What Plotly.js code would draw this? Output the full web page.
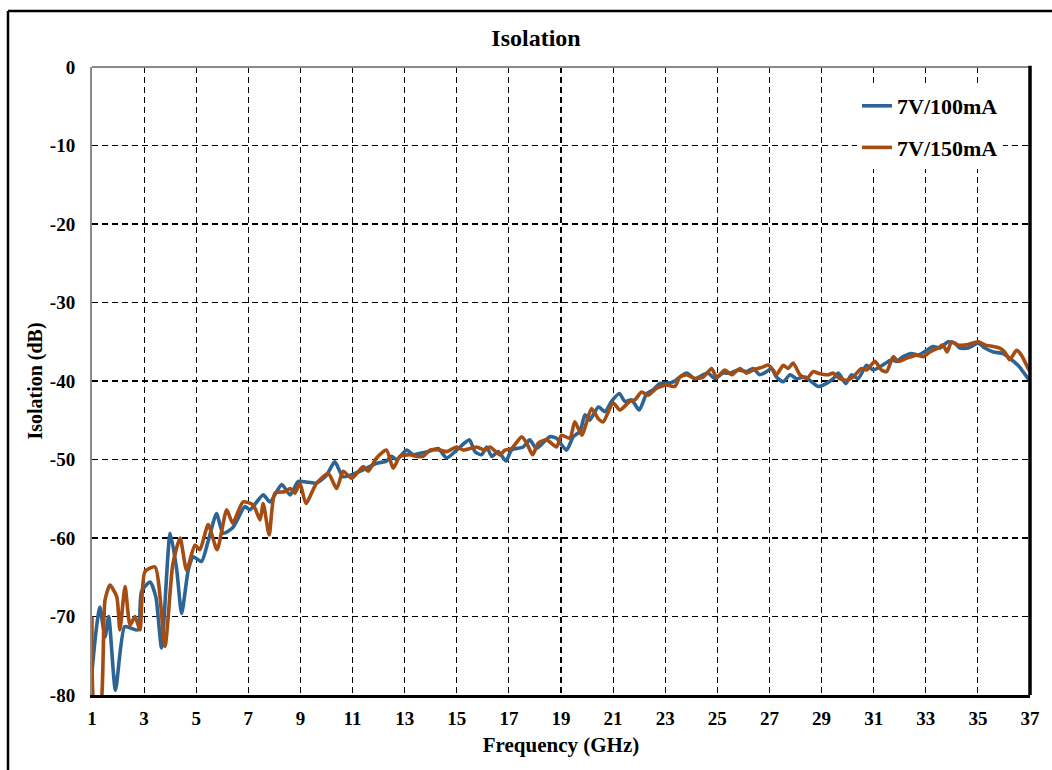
<!DOCTYPE html>
<html>
<head>
<meta charset="utf-8">
<script src="https://cdn.plot.ly/plotly-3.0.1.min.js"></script>
<style>
  html, body { margin: 0; padding: 0; background: #ffffff; }
  #chart { width: 1052px; height: 770px; }
</style>
</head>
<body>
<div id="chart"></div>
<script>
// ---- data ----
const seriesNames = ["7V/100mA", "7V/150mA"];

const freq100 = [1.0, 1.15, 1.3, 1.5, 1.64, 1.9, 2.25, 2.5, 2.77, 2.9, 3.23, 3.45, 3.67, 4.0, 4.25, 4.44, 4.7, 4.89, 5.2, 5.45, 5.78, 6.03, 6.4, 6.87, 7.06, 7.57, 7.83, 8.28, 8.6, 8.92, 9.3, 9.62, 10.0, 10.32, 10.64, 11.28, 11.92, 12.3, 12.5, 12.69, 13.08, 13.33, 13.59, 13.9, 14.29, 14.61, 15.06, 15.48, 15.7, 15.95, 16.15, 16.34, 16.59, 16.89, 17.1, 17.55, 17.8, 18.06, 18.57, 18.83, 19.21, 19.47, 19.73, 19.92, 20.1, 20.43, 20.69, 20.94, 21.24, 21.45, 21.71, 22.0, 22.29, 22.54, 22.8, 23.05, 23.31, 23.56, 23.82, 24.14, 24.46, 24.65, 24.91, 25.22, 25.48, 25.8, 26.12, 26.37, 26.63, 26.89, 27.08, 27.27, 27.53, 27.79, 28.04, 28.36, 28.62, 28.87, 29.19, 29.45, 29.64, 29.93, 30.15, 30.4, 30.73, 30.98, 31.24, 31.69, 31.88, 32.13, 32.45, 32.71, 33.03, 33.28, 33.54, 33.86, 34.12, 34.31, 34.63, 35.01, 35.27, 35.59, 35.97, 36.22, 36.54, 36.73, 36.93, 37.0];
const iso100 = [-77, -72, -68.8, -72.6, -70, -79.4, -71.3, -71.5, -71.7, -66.8, -65.6, -67.5, -74, -59.4, -64, -69.6, -64, -62.4, -63, -60.5, -56.9, -59.4, -58.7, -56, -56.4, -54.5, -55.4, -53.2, -54.5, -52.8, -52.9, -53, -52, -50.3, -52.2, -51.5, -50.5, -50.2, -49.6, -50.0, -48.8, -49.4, -49.2, -49, -48.6, -49.8, -48.6, -47.5, -49, -49.4, -48.4, -49.6, -49, -50.2, -48.8, -48.4, -47.5, -48.6, -47.1, -47.3, -48.8, -47.1, -46.4, -44.3, -45, -43.3, -43.9, -42.6, -41.6, -42.6, -42.4, -43.7, -41.6, -41.1, -40.3, -40.3, -40.1, -39.5, -39, -39.7, -39.2, -39, -39.7, -39, -39, -38.6, -38.8, -38.4, -39.2, -38.8, -38.4, -39.5, -40.1, -39.2, -39.7, -39.5, -40.1, -40.7, -40.3, -39.7, -39, -40.3, -39.2, -39.7, -38, -38.6, -38.2, -37.3, -37.5, -36.9, -36.5, -36.7, -36.1, -35.6, -35.8, -35, -35.2, -35.8, -35.8, -35.2, -35.8, -36.3, -36.5, -37.1, -38, -38.8, -39.7, -39.8];

const freq150 = [1.0, 1.12, 1.3, 1.5, 1.69, 1.95, 2.07, 2.27, 2.46, 2.65, 2.84, 3.03, 3.42, 3.8, 4.1, 4.38, 4.63, 4.95, 5.14, 5.46, 5.8, 6.17, 6.4, 6.8, 7.19, 7.45, 7.57, 7.8, 8.02, 8.4, 8.6, 8.79, 8.98, 9.21, 9.62, 10.07, 10.39, 10.64, 10.97, 11.41, 11.6, 11.92, 12.3, 12.56, 12.82, 13.2, 13.46, 13.71, 13.97, 14.35, 14.61, 14.99, 15.25, 15.76, 16.08, 16.27, 16.66, 16.85, 17.1, 17.49, 17.68, 17.91, 18.13, 18.45, 18.83, 19.02, 19.34, 19.53, 19.8, 20.17, 20.43, 20.62, 21.0, 21.26, 21.64, 21.84, 22.09, 22.35, 22.67, 23.05, 23.37, 23.56, 23.82, 24.14, 24.46, 24.78, 24.97, 25.29, 25.55, 25.87, 26.12, 26.37, 26.76, 26.95, 27.14, 27.27, 27.53, 27.72, 27.91, 28.17, 28.43, 28.68, 28.87, 29.25, 29.45, 29.7, 29.96, 30.21, 30.53, 30.73, 31.05, 31.3, 31.5, 31.75, 31.94, 32.26, 32.64, 32.9, 33.16, 33.47, 33.66, 33.82, 33.99, 34.24, 34.56, 35.01, 35.27, 35.59, 35.84, 36.03, 36.22, 36.48, 36.67, 36.93, 37.0];
const iso150 = [-70, -82, -82, -67.9, -66, -67.5, -71.7, -66.2, -71.1, -70, -71.7, -64.3, -63.7, -73.8, -63.4, -60, -64.1, -60.9, -61.5, -58.3, -61.5, -56.4, -58.1, -55.4, -55.8, -57.7, -55.6, -59.6, -54.3, -54.1, -53.7, -54.3, -53, -55.6, -53, -51.8, -53.7, -51.5, -52.4, -50.9, -51.5, -49.8, -48.8, -51.1, -49.6, -49.4, -49.6, -49.6, -48.8, -48.8, -49, -48.4, -48.8, -48.4, -48.8, -48.4, -49.4, -48.8, -48.6, -47.1, -47.9, -49.4, -47.9, -47.5, -48.4, -46.9, -47.3, -45.2, -46.9, -43.5, -44.8, -45.2, -42.8, -43.7, -42.6, -42.4, -41.4, -41.8, -40.9, -40.5, -40.7, -39.5, -39.2, -39.7, -39.5, -38.4, -39.5, -38.6, -39.2, -38.4, -39, -38.6, -38.2, -37.96, -38.6, -39.2, -38, -38.4, -37.7, -39.2, -39.7, -38.8, -39, -39.2, -39, -39.7, -39.9, -39.5, -38.4, -38.6, -37.5, -38.6, -38.8, -36.9, -37.5, -37.1, -36.7, -36.9, -36.3, -35.8, -35.4, -36.3, -35, -35.4, -35.4, -35, -35.4, -35.6, -35.8, -36.3, -37.3, -36.1, -36.7, -38.4, -38.8];

const xTicks = [1, 3, 5, 7, 9, 11, 13, 15, 17, 19, 21, 23, 25, 27, 29, 31, 33, 35, 37];
const yTicks = [0, -10, -20, -30, -40, -50, -60, -70, -80];

// ---- styling ----
const FONT = "Liberation Serif";
const colors = ["#2C6496", "#A44C12"];

const traces = [
  { x: freq100, y: iso100, name: "<b>" + seriesNames[0] + "</b>", legendgroup: "a" },
  { x: freq150, y: iso150, name: "<b>" + seriesNames[1] + "</b>", legendgroup: "b" }
].map((t, i) => Object.assign(t, {
  type: "scatter",
  mode: "lines",
  line: { color: colors[i], width: 3.6, shape: "spline", smoothing: 0.6 },
  hoverinfo: "x+y+name"
}));

const layout = {
  width: 1052,
  height: 770,
  paper_bgcolor: "#ffffff",
  plot_bgcolor: "#ffffff",
  margin: { l: 92, r: 22, t: 67, b: 75 },
  font: { family: FONT, color: "#000000" },
  title: {
    text: "<b>Isolation</b>",
    font: { family: FONT, size: 24, color: "#000000" },
    x: 536 / 1052, xanchor: "center", xref: "container",
    y: 1 - 38 / 770, yanchor: "middle", yref: "container"
  },
  xaxis: {
    range: [1, 37],
    tickvals: xTicks,
    ticktext: xTicks.map(v => "<b>" + v + "</b>"),
    tickfont: { family: FONT, size: 19, color: "#000000" },
    ticks: "",
    ticklabelstandoff: 4,
    showgrid: true,
    gridcolor: "#000000",
    gridwidth: 1.2,
    griddash: "6px,4px",
    zeroline: false,
    showline: true,
    linecolor: "#000000",
    linewidth: 3,
    title: {
      text: "<b>Frequency (GHz)</b>",
      font: { family: FONT, size: 21, color: "#000000" },
      standoff: 10
    }
  },
  yaxis: {
    range: [-80, 0],
    tickvals: yTicks,
    ticktext: yTicks.map(v => "<b>" + v + "</b>"),
    tickfont: { family: FONT, size: 19, color: "#000000" },
    ticks: "",
    ticklabelstandoff: 11,
    showgrid: true,
    gridcolor: "#000000",
    gridwidth: 1.2,
    griddash: "6px,4px",
    zeroline: false,
    showline: true,
    linecolor: "#8a8a8a",
    linewidth: 2,
    title: {
      text: "<b>Isolation (dB)</b>",
      font: { family: FONT, size: 20, color: "#000000" },
      standoff: 2
    }
  },
  showlegend: true,
  legend: {
    x: (857 - 92) / 938,
    xanchor: "left",
    y: (695 - 85) / 628,
    yanchor: "top",
    bgcolor: "#ffffff",
    borderwidth: 0,
    font: { family: FONT, size: 22, color: "#000000" },
    traceorder: "grouped",
    tracegroupgap: 10,
    itemwidth: 30
  },
  shapes: [
    { type: "line", xref: "paper", yref: "paper", x0: 0, x1: 1, y0: 1, y1: 1,
      line: { color: "#8a8a8a", width: 2 } },
    { type: "line", xref: "paper", yref: "paper", x0: 1, x1: 1, y0: 0, y1: 1.002,
      line: { color: "#000000", width: 3.5 } },
    { type: "line", xref: "paper", yref: "paper",
      x0: (8 - 92) / 938, x1: (8 - 92) / 938, y0: (695 - 780) / 628, y1: (695 - 11) / 628,
      line: { color: "#000000", width: 2.5 } },
    { type: "line", xref: "paper", yref: "paper",
      x0: (8 - 92) / 938, x1: (1060 - 92) / 938, y0: (695 - 11) / 628, y1: (695 - 11) / 628,
      line: { color: "#000000", width: 2.5 } }
  ]
};

Plotly.newPlot("chart", traces, layout, { displayModeBar: false, staticPlot: true });
</script>
</body>
</html>
